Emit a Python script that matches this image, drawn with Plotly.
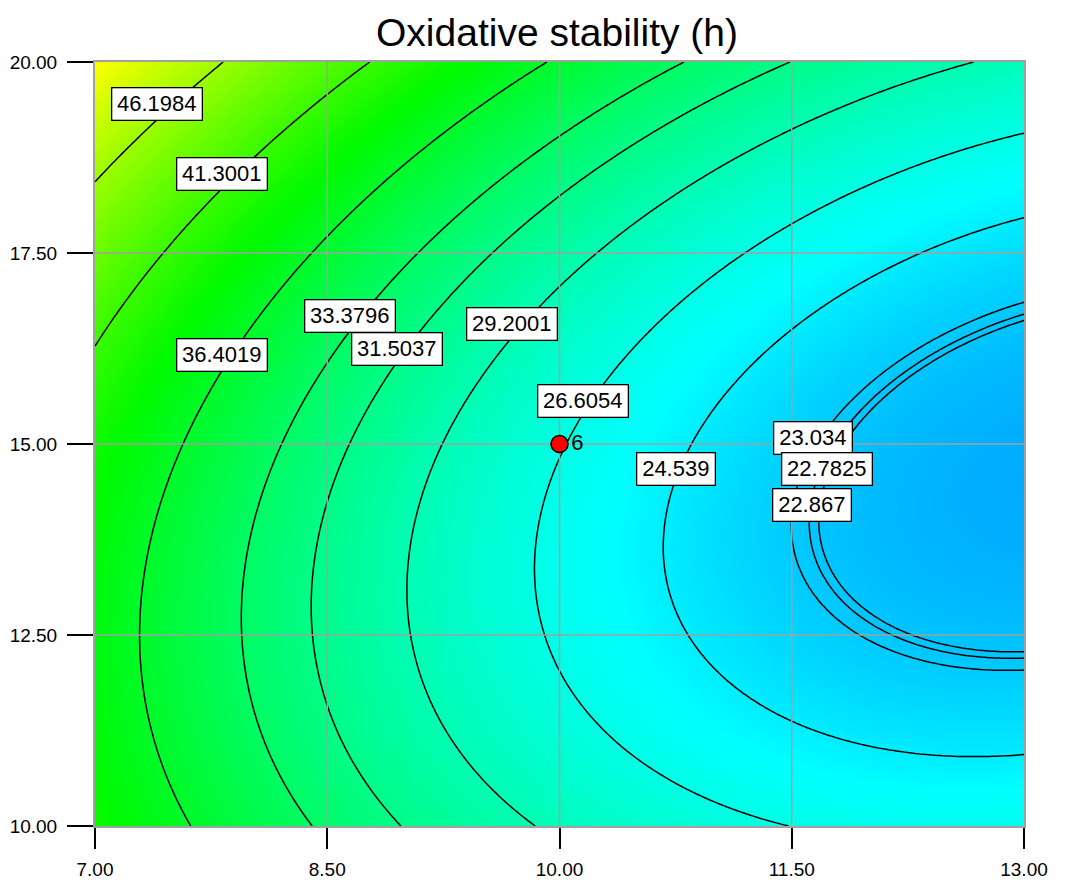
import numpy as np
import plotly.graph_objects as go

# ---- Fitted quadratic response-surface model (coded factors) ----
# coded A = (x - 10) / 3 ; coded B = (y - 15) / 5
coef_names = ["Intercept", "A", "B", "AB", "A^2", "B^2"]
coef_values = [26.7314, -8.8092, 3.6213, -2.3559, 3.8508, 5.7415]

# contour levels shown on the chart
levels = [46.1984, 41.3001, 36.4019, 33.3796, 31.5037, 29.2001, 26.6054, 24.539, 23.034, 22.867, 22.7825]
# where each contour's label box sits (x, y in data units)
label_x = [7.40, 7.82, 7.82, 8.65, 8.95, 9.69, 10.15, 10.75, 11.64, 11.63, 11.73]
label_y = [19.45, 18.54, 16.16, 16.67, 16.24, 16.57, 15.56, 14.67, 15.08, 14.20, 14.67]

# design point (centre point with 6 replicates)
design_x = [10.0]
design_y = [15.0]
design_n = ["6"]

x_ticks = [7.0, 8.5, 10.0, 11.5, 13.0]
y_ticks = [10.0, 12.5, 15.0, 17.5, 20.0]
title = "Oxidative stability (h)"

# ---- surface ----
xg = np.linspace(x_ticks[0], x_ticks[-1], 241)
yg = np.linspace(y_ticks[0], y_ticks[-1], 201)
A, B = np.meshgrid((xg - 10) / 3, (yg - 15) / 5)
b0, b1, b2, b12, b11, b22 = coef_values
Z = b0 + b1 * A + b2 * B + b12 * A * B + b11 * A * A + b22 * B * B

zmin, zmax = 21.7, 51.1
stops = [(21.7, "rgb(0,172,255)"), (25.3, "rgb(0,255,255)"), (38.5, "rgb(0,250,0)"), (51.1, "rgb(255,255,0)")]
cs = [[(v - zmin) / (zmax - zmin), c] for v, c in stops]

FONT = "Liberation Sans, Arial, sans-serif"

fig = go.Figure()
fig.add_trace(go.Heatmap(x=xg, y=yg, z=Z, colorscale=cs, zmin=zmin, zmax=zmax, zsmooth="best",
                         showscale=False, hoverinfo="skip"))

grid_col = "#a0a0a0"
for t in x_ticks[1:-1]:
    fig.add_trace(go.Scatter(x=[t, t], y=[y_ticks[0], y_ticks[-1]], mode="lines",
                             line=dict(color=grid_col, width=1.5), hoverinfo="skip", showlegend=False))
for t in y_ticks[1:-1]:
    fig.add_trace(go.Scatter(x=[x_ticks[0], x_ticks[-1]], y=[t, t], mode="lines",
                             line=dict(color=grid_col, width=1.5), hoverinfo="skip", showlegend=False))

for L in levels:
    fig.add_trace(go.Contour(x=xg, y=yg, z=Z, autocontour=False,
                             contours=dict(start=L, end=L, size=1, coloring="none"),
                             line=dict(color="black", width=1.5), showscale=False, hoverinfo="skip"))

fig.add_trace(go.Scatter(x=design_x, y=design_y, mode="markers+text", text=design_n, textposition="middle right",
                         textfont=dict(family=FONT, size=22, color="black"),
                         marker=dict(color="red", size=17, line=dict(color="black", width=1.5)),
                         hoverinfo="skip", showlegend=False))

for L, lx, ly in zip(levels, label_x, label_y):
    txt = f"{L:g}"
    fig.add_annotation(x=lx, y=ly, text=txt, showarrow=False, bgcolor="white", bordercolor="black",
                       borderwidth=1.3, borderpad=3, width=83 if len(txt) >= 7 else 71,
                       font=dict(family=FONT, size=22, color="black"))

W, H = 1057, 874
fig.update_layout(
    width=W, height=H, margin=dict(l=87, r=41, t=54, b=56, autoexpand=False),
    paper_bgcolor="white", plot_bgcolor="white",
    title=dict(text=title, x=549 / W, xanchor="center", y=1 - 24 / H, yanchor="middle",
               font=dict(family=FONT, size=39, color="black")),
    showlegend=False,
    font=dict(family=FONT, color="black"),
)
fig.update_xaxes(range=[x_ticks[0], x_ticks[-1]], tickvals=x_ticks, ticktext=[f"{t:.2f}" for t in x_ticks],
                 showgrid=False, zeroline=False, automargin=False,
                 ticks="outside", ticklen=21, tickwidth=2, tickcolor="black", tickfont=dict(size=19),
                 showline=True, linecolor=grid_col, linewidth=2, mirror=True, layer="above traces",
                 ticklabelstandoff=4)
fig.update_yaxes(range=[y_ticks[0], y_ticks[-1]], tickvals=y_ticks, ticktext=[f"{t:.2f}" for t in y_ticks],
                 showgrid=False, zeroline=False, automargin=False,
                 ticks="outside", ticklen=26, tickwidth=2, tickcolor="black", tickfont=dict(size=19),
                 showline=True, linecolor=grid_col, linewidth=2, mirror=True, layer="above traces",
                 ticklabelstandoff=6)

fig.write_html("out.html")
